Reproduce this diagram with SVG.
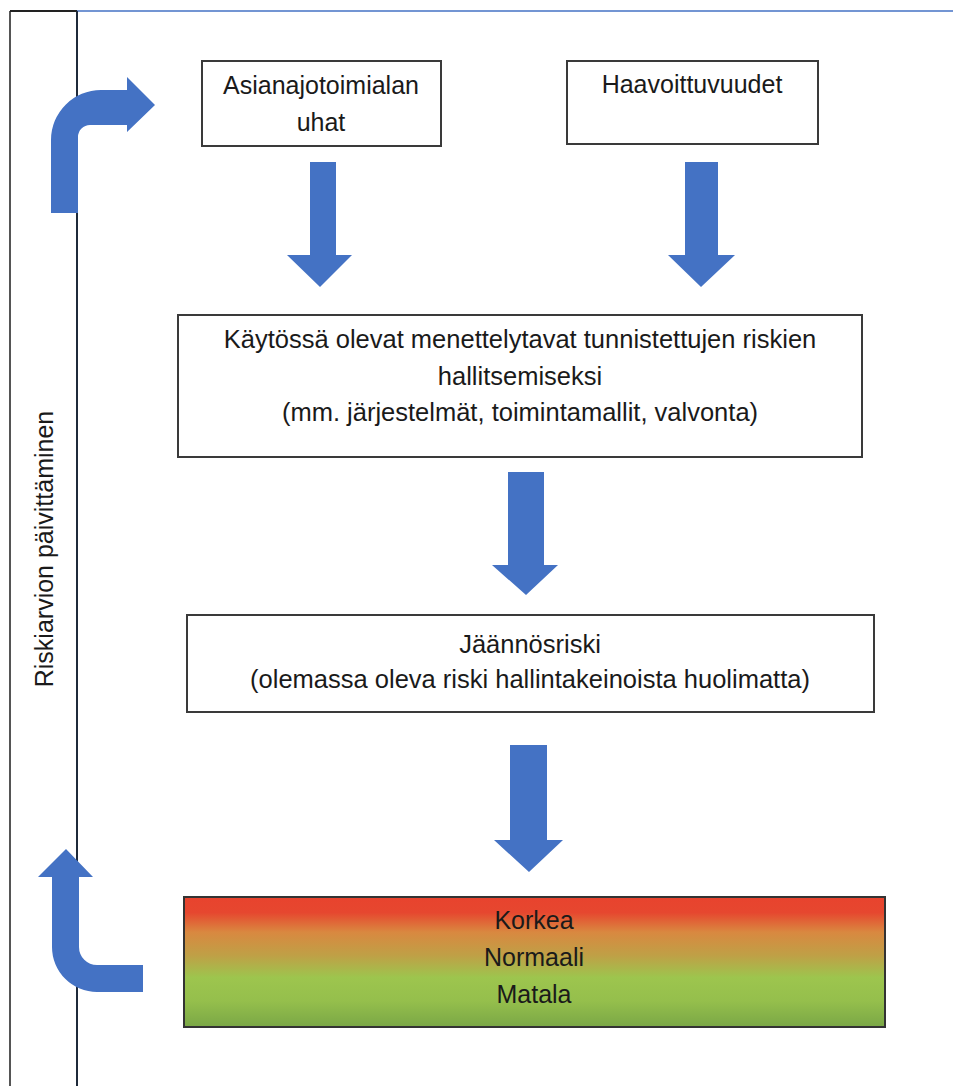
<svg xmlns="http://www.w3.org/2000/svg" width="953" height="1086" viewBox="0 0 953 1086">
<defs>
<style>
.box{fill:#ffffff;stroke:#3a3a3a;stroke-width:2}
.arr{fill:#4472C4}
.t{font-family:"Liberation Sans",Arial,sans-serif;font-size:25.5px;fill:#1a1a1a;text-anchor:middle}
.s{font-size:25px}
</style>
<linearGradient id="lvl" x1="0" y1="0" x2="0" y2="1">
<stop offset="0" stop-color="#E8432E"/>
<stop offset="0.12" stop-color="#E6472F"/>
<stop offset="0.27" stop-color="#D98840"/>
<stop offset="0.45" stop-color="#BFA046"/>
<stop offset="0.62" stop-color="#9DC54E"/>
<stop offset="0.8" stop-color="#95BF4C"/>
<stop offset="1" stop-color="#7AA746"/>
</linearGradient>
</defs>
<rect width="953" height="1086" fill="#ffffff"/>
<g id="frame">
<line x1="10" y1="11" x2="10" y2="1086" stroke="#555" stroke-width="2"/>
<line x1="10" y1="11" x2="77" y2="11" stroke="#222" stroke-width="2"/>
<line x1="77" y1="11" x2="953" y2="11" stroke="#4472C4" stroke-width="1.5"/>
<line x1="77" y1="11" x2="77" y2="1086" stroke="#1f2a3a" stroke-width="2"/>
<text class="t s" transform="translate(53,549) rotate(-90)">Riskiarvion päivittäminen</text>
</g>
<g id="box1">
<rect class="box" x="202" y="61" width="239" height="85"/>
<text class="t s" x="321" y="94">Asianajotoimialan</text>
<text class="t s" x="321" y="131">uhat</text>
</g>
<g id="box2">
<rect class="box" x="567" y="61" width="251" height="83"/>
<text class="t s" x="692" y="93">Haavoittuvuudet</text>
</g>
<g id="box3">
<rect class="box" x="178" y="315" width="684" height="142"/>
<text class="t" x="520" y="348">Käytössä olevat menettelytavat tunnistettujen riskien</text>
<text class="t" x="520" y="385">hallitsemiseksi</text>
<text class="t" x="520" y="421">(mm. järjestelmät, toimintamallit, valvonta)</text>
</g>
<g id="box4">
<rect class="box" x="187" y="615" width="687" height="97"/>
<text class="t" x="530" y="653">Jäännösriski</text>
<text class="t" x="530" y="688">(olemassa oleva riski hallintakeinoista huolimatta)</text>
</g>
<g id="levels">
<rect x="184" y="897" width="701" height="130" fill="url(#lvl)" stroke="#333" stroke-width="2"/>
<text class="t s" x="534" y="929">Korkea</text>
<text class="t s" x="534" y="966">Normaali</text>
<text class="t s" x="534" y="1003">Matala</text>
</g>
<g id="connectors">
<path class="arr" d="M310,162 L336,162 L336,255 L352,255 L320,287 L287,255 L310,255 Z"/>
<path class="arr" d="M685,162 L718,162 L718,255 L735,255 L701,287 L668,255 L685,255 Z"/>
<path class="arr" d="M508,472 L544,472 L544,565 L558,565 L526,595 L492,565 L508,565 Z"/>
<path class="arr" d="M510,745 L547,745 L547,840 L563,840 L529,872 L494,840 L510,840 Z"/>
<path class="arr" d="M51,213 L51,140 A50,50 0 0 1 101,90 L127,90 L127,77 L155,105 L127,132 L127,125 L90,125 A12,12 0 0 0 78,137 L78,213 Z"/>
<path class="arr" d="M66,849 L93,877 L79,877 L79,947 A18,18 0 0 0 97,965 L143,965 L143,992 L97,992 A45,45 0 0 1 52,947 L52,877 L38,877 Z"/>
</g>
</svg>
